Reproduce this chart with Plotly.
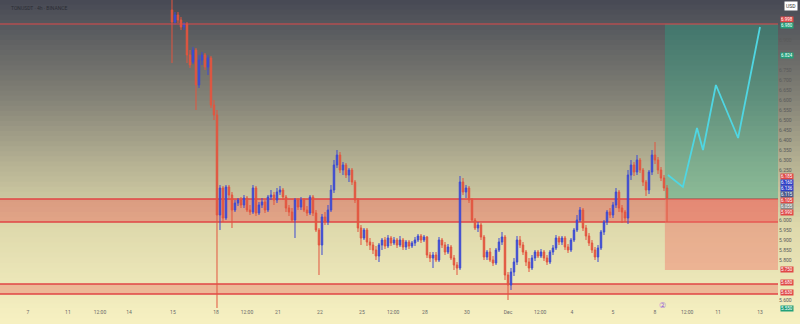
import plotly.graph_objects as go

# ---------------- data ----------------
open_ = [7.05,6.99,7.025,7.00,6.965,6.98,6.825,6.79,6.85,6.675,
         6.80,6.825,6.765,6.81,6.575,6.525,6.025,6.16,6.01,6.165,
         6.125,6.05,6.085,6.10,6.075,6.11,6.05,6.04,6.16,6.035,
         6.075,6.09,6.05,6.115,6.125,6.10,6.14,6.15,6.115,6.06,
         6.04,6.00,6.10,6.065,6.10,6.05,6.035,6.115,6.035,5.95,
         5.875,6.015,5.99,6.05,6.15,6.275,6.325,6.25,6.275,6.225,
         6.25,6.19,6.10,5.96,5.91,5.95,5.89,5.875,5.85,5.82,
         5.875,5.90,5.87,5.91,5.885,5.90,5.875,5.90,5.865,5.89,
         5.87,5.885,5.90,5.92,5.90,5.915,5.825,5.81,5.825,5.80,
         5.90,5.875,5.84,5.865,5.81,5.775,5.76,6.19,6.14,6.16,
         6.10,6.00,5.96,5.975,5.915,5.815,5.84,5.80,5.785,5.85,
         5.89,5.915,5.725,5.675,5.74,5.79,5.90,5.875,5.84,5.79,
         5.76,5.81,5.84,5.82,5.84,5.81,5.79,5.84,5.86,5.91,
         5.89,5.91,5.865,5.85,5.90,5.95,6.00,6.05,5.96,5.92,
         5.885,5.85,5.815,5.86,5.94,5.99,6.04,6.025,6.075,6.14,
         6.06,6.04,6.01,6.225,6.275,6.24,6.30,6.25,6.19,6.15,
         6.24,6.325,6.30,6.25,6.21,6.16]
high = [7.125,7.04,7.04,7.015,6.99,6.99,6.85,6.865,6.86,6.825,
        6.84,6.835,6.825,6.82,6.60,6.55,6.175,6.17,6.175,6.175,
        6.14,6.10,6.11,6.115,6.125,6.12,6.075,6.175,6.17,6.09,
        6.11,6.10,6.125,6.15,6.14,6.16,6.17,6.16,6.125,6.075,
        6.06,6.11,6.11,6.115,6.11,6.07,6.125,6.125,6.05,5.96,
        6.03,6.04,6.075,6.175,6.30,6.35,6.34,6.29,6.285,6.26,
        6.26,6.20,6.11,5.975,5.96,5.96,5.91,5.89,5.87,5.885,
        5.91,5.915,5.925,5.92,5.915,5.91,5.92,5.91,5.90,5.90,
        5.895,5.915,5.93,5.93,5.925,5.92,5.84,5.84,5.84,5.915,
        5.91,5.89,5.88,5.875,5.825,5.79,6.22,6.21,6.175,6.17,
        6.11,6.01,5.99,5.985,5.925,5.85,5.86,5.82,5.86,5.91,
        5.94,5.925,5.74,5.76,5.81,5.92,5.92,5.89,5.85,5.81,
        5.825,5.85,5.85,5.855,5.85,5.825,5.85,5.875,5.925,5.92,
        5.92,5.92,5.88,5.91,5.96,6.025,6.065,6.06,5.975,5.935,
        5.90,5.865,5.875,5.95,6.00,6.05,6.06,6.09,6.16,6.15,
        6.075,6.05,6.25,6.30,6.29,6.325,6.31,6.26,6.20,6.25,
        6.35,6.39,6.315,6.265,6.225,6.175]
low = [6.785,6.975,6.985,6.95,6.95,6.785,6.76,6.78,6.55,6.66,
       6.775,6.75,6.725,6.56,6.50,5.51,5.95,5.99,6.00,6.10,
       5.96,6.04,6.07,6.06,6.06,6.04,6.025,6.03,6.02,6.025,
       6.06,6.035,6.04,6.10,6.075,6.085,6.125,6.10,6.04,6.02,
       5.99,5.91,6.05,6.05,6.04,6.02,6.025,6.02,5.94,5.725,
       5.825,5.975,5.975,6.04,6.135,6.26,6.235,6.225,6.21,6.19,
       6.175,6.085,5.94,5.875,5.90,5.87,5.85,5.83,5.80,5.79,
       5.85,5.855,5.86,5.87,5.875,5.86,5.865,5.85,5.85,5.855,
       5.86,5.87,5.89,5.885,5.89,5.81,5.79,5.76,5.79,5.79,
       5.86,5.825,5.83,5.80,5.75,5.725,5.75,6.125,6.11,6.085,
       5.99,5.95,5.94,5.90,5.80,5.80,5.79,5.77,5.775,5.84,
       5.875,5.70,5.60,5.65,5.72,5.775,5.86,5.825,5.77,5.74,
       5.75,5.795,5.81,5.81,5.795,5.775,5.78,5.825,5.85,5.875,
       5.875,5.85,5.835,5.84,5.89,5.94,5.99,5.945,5.90,5.87,
       5.835,5.80,5.79,5.85,5.925,5.975,6.01,6.01,6.06,6.04,
       5.985,5.99,5.98,6.20,6.22,6.225,6.235,6.17,6.12,6.13,
       6.225,6.28,6.23,6.195,6.145,5.99]
close = [6.99,7.025,7.00,6.965,6.98,6.825,6.775,6.85,6.675,6.80,
         6.825,6.765,6.81,6.575,6.525,6.025,6.16,6.01,6.165,6.125,
         6.05,6.085,6.10,6.075,6.11,6.05,6.04,6.16,6.035,6.075,
         6.09,6.05,6.115,6.125,6.10,6.14,6.15,6.115,6.06,6.04,
         6.00,6.10,6.065,6.10,6.05,6.035,6.115,6.035,5.95,5.875,
         6.015,5.99,6.05,6.15,6.275,6.325,6.25,6.275,6.225,6.25,
         6.19,6.10,5.96,5.91,5.95,5.89,5.875,5.85,5.82,5.875,
         5.90,5.87,5.91,5.885,5.90,5.875,5.90,5.865,5.89,5.87,
         5.885,5.90,5.92,5.90,5.915,5.825,5.81,5.825,5.80,5.90,
         5.875,5.84,5.865,5.81,5.775,5.76,6.19,6.14,6.16,6.10,
         6.00,5.96,5.975,5.915,5.815,5.84,5.80,5.785,5.85,5.89,
         5.915,5.725,5.675,5.74,5.79,5.90,5.875,5.84,5.79,5.76,
         5.81,5.84,5.82,5.84,5.81,5.79,5.84,5.86,5.91,5.89,
         5.91,5.865,5.85,5.90,5.95,6.00,6.05,5.96,5.92,5.885,
         5.85,5.815,5.86,5.94,5.99,6.04,6.025,6.075,6.14,6.06,
         6.04,6.01,6.225,6.275,6.24,6.30,6.25,6.19,6.15,6.24,
         6.325,6.30,6.25,6.21,6.16,6.11]
bars = list(range(len(close)))

# projected path (cyan)
proj_x = [165.3, 170.3, 175.0, 177.0, 181.3, 188.7, 196.0]
proj_y = [6.225, 6.165, 6.46, 6.35, 6.675, 6.41, 6.965]

# levels
resistance = 6.98
zone_top, zone_bot = 6.105, 5.99
low_top, low_bot = 5.68, 5.63
entry, target, stop = 6.105, 6.98, 5.75
pos_start = 164.3

# axis labels
tick_vals = [-48, -34.7, -24, -14.3, 0.3, 14.7, 25, 35.3, 49.3, 63.3, 73.7,
             84.3, 98.3, 112, 122.7, 133.3, 147, 161, 171.7, 182, 196]
tick_text = ["7", "11", "12:00", "14", "15", "18", "12:00", "21", "22", "25", "12:00",
             "28", "30", "Dec", "12:00", "4", "5", "8", "12:00", "11", "13"]

price_levels = [5.60, 5.65, 5.70, 5.75, 5.80, 5.85, 5.90, 5.95, 6.00, 6.05, 6.10,
                6.15, 6.20, 6.25, 6.30, 6.35, 6.40, 6.45, 6.50, 6.55, 6.60, 6.65,
                6.70, 6.75, 6.80, 6.85, 6.90, 6.95, 7.00, 7.05]

# (price the tag sits at, tag text, tag colour)
price_tags = [(7.005, "6.998", "#e04848"), (6.972, "6.980", "#22a07a"),
              (6.825, "6.824", "#22a07a"),
              (6.22, "6.185", "#e04848"), (6.19, "6.160", "#2f3fc8"),
              (6.16, "6.136", "#2f3fc8"), (6.13, "6.115", "#4a5a8a"),
              (6.10, "6.105", "#e04848"), (6.07, "6.055", "#8a8a8a"),
              (6.04, "5.990", "#e04848"),
              (5.755, "5.750", "#e04848"), (5.69, "5.680", "#e04848"),
              (5.64, "5.630", "#e04848")]

# ---------------- figure ----------------
fig = go.Figure()

fig.add_trace(go.Candlestick(
    x=bars, open=open_, high=high, low=low, close=close,
    increasing=dict(line=dict(color="#3d4bd2", width=1), fillcolor="#3d4bd2"),
    decreasing=dict(line=dict(color="#e2553f", width=1), fillcolor="#e2553f"),
    showlegend=False, hoverinfo="skip"))

fig.add_trace(go.Scatter(x=proj_x, y=proj_y, mode="lines",
                         line=dict(color="#4fd6e2", width=1.8),
                         showlegend=False, hoverinfo="skip"))

shapes = []
# background gradient
stops = [(0.0, (70, 73, 84)), (0.3, (130, 129, 118)), (0.5, (180, 176, 146)),
         (0.7, (222, 217, 172)), (1.0, (247, 241, 194))]

def col(t):
    for (t0, c0), (t1, c1) in zip(stops[:-1], stops[1:]):
        if t0 <= t <= t1:
            f = (t - t0) / (t1 - t0)
            return "rgb(%d,%d,%d)" % tuple(round(a + (b - a) * f) for a, b in zip(c0, c1))
    return "rgb(247,241,194)"

N = 64
ytop, ybot = 1.0, -16 / 308
for k in range(N):
    y1 = ytop - (ytop - ybot) * k / N
    y0 = ytop - (ytop - ybot) * (k + 1) / N
    shapes.append(dict(type="rect", xref="paper", yref="paper", x0=-0.01, x1=800 / 778 + 0.01,
                       y0=y0 - 0.002, y1=y1 + 0.002, fillcolor=col((k + 0.5) / N),
                       line=dict(width=0), layer="below"))

# position boxes
shapes.append(dict(type="rect", xref="x", yref="y", x0=pos_start, x1=202, y0=entry, y1=target,
                   fillcolor="rgba(38,165,135,0.38)", line=dict(width=0), layer="below"))
shapes.append(dict(type="rect", xref="x", yref="y", x0=pos_start, x1=202, y0=stop, y1=entry,
                   fillcolor="rgba(240,112,100,0.42)", line=dict(width=0), layer="below"))
# zones
shapes.append(dict(type="rect", xref="paper", yref="y", x0=0, x1=1, y0=zone_bot, y1=zone_top,
                   fillcolor="rgba(236,95,85,0.42)", line=dict(width=0), layer="below"))
shapes.append(dict(type="rect", xref="paper", yref="y", x0=0, x1=1, y0=low_bot, y1=low_top,
                   fillcolor="rgba(236,95,85,0.35)", line=dict(width=0), layer="below"))
for yv in [zone_top, zone_bot, low_top, low_bot]:
    shapes.append(dict(type="line", xref="paper", yref="y", x0=0, x1=1, y0=yv, y1=yv,
                       line=dict(color="#e04545", width=1.5), layer="below"))
shapes.append(dict(type="line", xref="paper", yref="y", x0=0, x1=1, y0=resistance, y1=resistance,
                   line=dict(color="#e04a4a", width=1.2), layer="above"))

# axis tick labels that would sit under a tag (or the currency box) are left out
tag_prices = [p for p, _, _ in price_tags]
y_ticks = [v for v in price_levels
           if v < 7.03 and all(abs(v - p) > 0.026 for p in tag_prices)]

annotations = []
for p, t, c in price_tags:
    annotations.append(dict(x=1, xref="paper", y=p, yref="y", xanchor="left", xshift=2,
                            text=t, showarrow=False, bgcolor=c, height=5,
                            font=dict(size=4.5, color="white", family="Roboto"), borderpad=0))
annotations.append(dict(x=1, xref="paper", y=1, yref="paper", xanchor="left", yanchor="top",
                        xshift=6, yshift=-1, text="USD", showarrow=False, bgcolor="white",
                        font=dict(size=5, color="#333", family="Roboto"), borderpad=1))
annotations.append(dict(x=1, xref="paper", y=-0.012, yref="paper", xanchor="left", xshift=2,
                        text="5.550", showarrow=False, bgcolor="#22a07a", height=5,
                        font=dict(size=4.5, color="white", family="Roboto"), borderpad=0))
annotations.append(dict(x=0.012, xref="paper", y=0.99, yref="paper", xanchor="left", yanchor="top",
                        text="TONUSDT · 4h · BINANCE", showarrow=False,
                        font=dict(size=5, color="#2b2d35", family="Roboto")))
annotations.append(dict(x=668 / 778, xref="paper", y=-0.012, yref="paper",
                        text="②", showarrow=False,
                        font=dict(size=8, color="#9a6ad8", family="DejaVu Sans")))

fig.update_layout(
    width=800, height=324,
    margin=dict(l=0, r=22, t=0, b=16),
    paper_bgcolor="rgb(247,241,194)", plot_bgcolor="rgba(0,0,0,0)",
    shapes=shapes, annotations=annotations,
    xaxis=dict(range=[-57.33, 202], tickvals=tick_vals, ticktext=tick_text,
               showgrid=False, zeroline=False, showline=False, ticks="",
               tickfont=dict(size=5, color="#6a6a6a", family="Roboto"),
               rangeslider=dict(visible=False), fixedrange=True),
    yaxis=dict(range=[5.56, 7.10], side="right", tickvals=y_ticks, tickformat=".3f",
               showgrid=False, zeroline=False, showline=False, ticks="",
               tickfont=dict(size=5, color="#5a5a5a", family="Roboto"), fixedrange=True),
)

fig.write_html("out.html")
